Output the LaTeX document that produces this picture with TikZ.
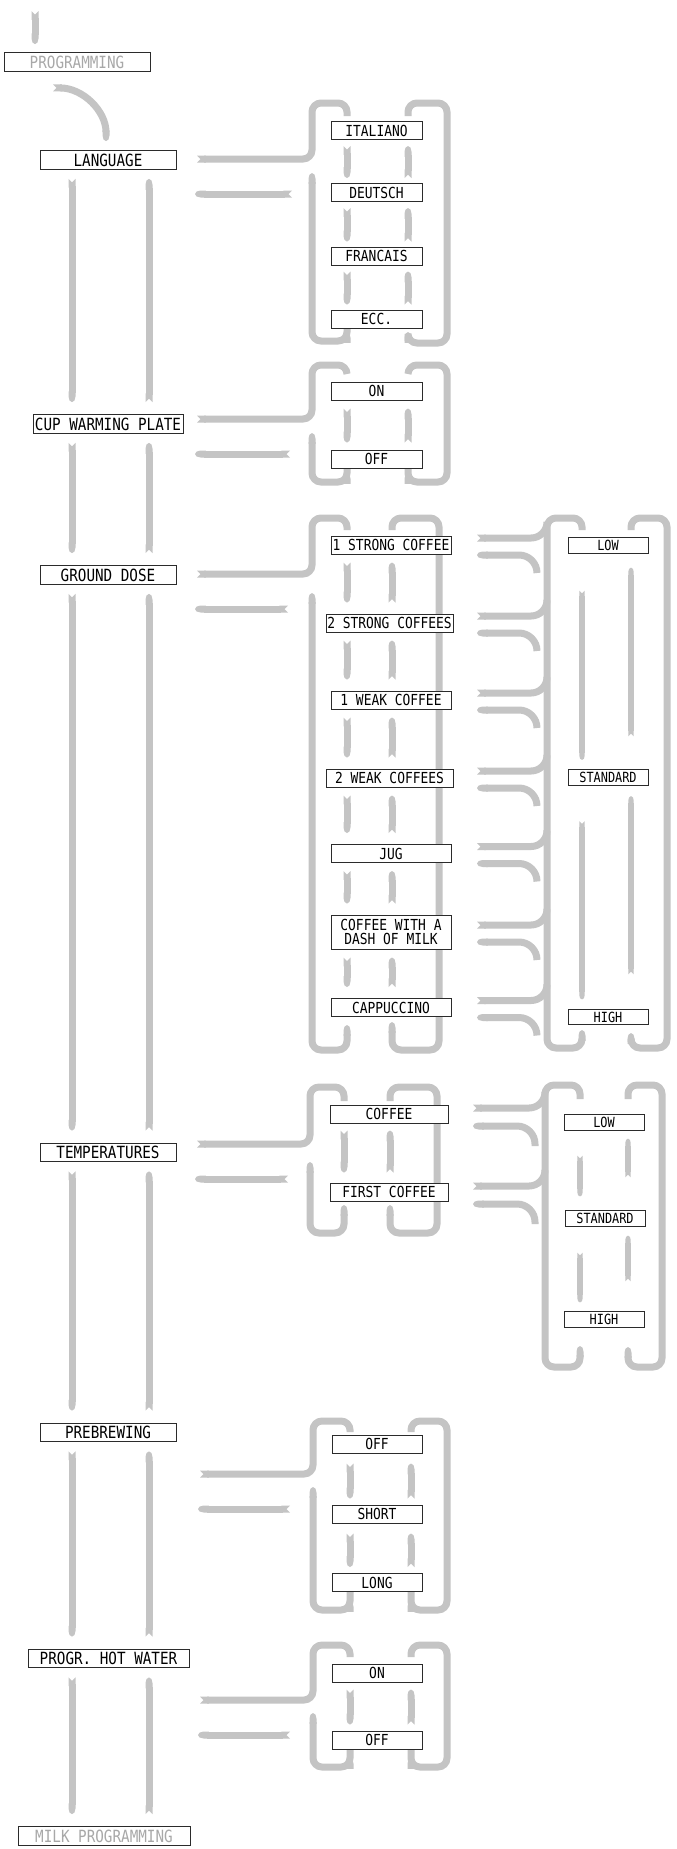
\documentclass[tikz,border=0pt]{standalone}
\usepackage{fontspec}
\newfontfamily\menufont{DejaVu Sans Mono}[FakeStretch=0.85]
\usepackage{tikz}
\usetikzlibrary{arrows.meta,backgrounds}
\definecolor{BandGrey}{HTML}{C4C4C4}
\definecolor{FadedText}{HTML}{A8A8A8}
\definecolor{BoxLine}{HTML}{2B2B2B}

\begin{document}
\begin{tikzpicture}[x=0.5pt,y=-0.5pt,
  band/.style={draw=BandGrey,line width=3.5pt,rounded corners=4.5pt},
  notchtip/.style={band,{Triangle Cap[reversed]}-{Round Cap[length=0pt 0.8]}},
  notchcut/.style={band,{Triangle Cap[reversed]}-},
  cuttip/.style={band,-{Round Cap[length=0pt 0.8]}},
  tiptip/.style={band,{Round Cap[length=0pt 0.8]}-{Round Cap[length=0pt 0.8]}},
  slim/.style={line width=2.7pt},
  mainbox/.style={draw=BoxLine,line width=0.5pt,fill=white,inner sep=0pt,align=center,minimum height=9.4pt,font=\menufont\fontsize{8.4}{8.4}\selectfont},
  fadedbox/.style={mainbox,text=FadedText},
  optbox/.style={mainbox,minimum height=9pt,font=\menufont\fontsize{7.6}{7}\selectfont},
  lvlbox/.style={mainbox,minimum width=40pt,minimum height=7.6pt,font=\menufont\fontsize{7}{7}\selectfont}]
  \useasboundingbox (0,0) rectangle (676,1849);

  % main menu
  \node[fadedbox,minimum width=73pt] (prog) at (77,62) {PROGRAMMING};
  \node[mainbox,minimum width=68pt] (lang) at (108,160) {LANGUAGE};
  \node[mainbox,minimum width=75pt] (cup) at (108,424) {CUP WARMING PLATE};
  \node[mainbox,minimum width=68pt] (gdose) at (108,575) {GROUND DOSE};
  \node[mainbox,minimum width=68pt] (temp) at (108,1152.5) {TEMPERATURES};
  \node[mainbox,minimum width=68pt] (prebr) at (108,1432.5) {PREBREWING};
  \node[mainbox,minimum width=80.5pt] (hotw) at (108.5,1658.5) {PROGR. HOT WATER};
  \node[fadedbox,minimum width=86pt] (milk) at (104,1836) {MILK PROGRAMMING};

  % language
  \node[optbox,minimum width=45.5pt] (ital) at (376.5,130.5) {ITALIANO};
  \node[optbox,minimum width=45.5pt] (deut) at (376.5,192.5) {DEUTSCH};
  \node[optbox,minimum width=45.5pt] (fran) at (376.5,256) {FRANCAIS};
  \node[optbox,minimum width=45.5pt] (ecc) at (376.5,319) {ECC.};

  % cup warming plate
  \node[optbox,minimum width=45.5pt] (cupon) at (376.5,391) {ON};
  \node[optbox,minimum width=45.5pt] (cupoff) at (376.5,459) {OFF};

  % ground dose
  \node[optbox,minimum width=60pt] (str1) at (391,545) {1 STRONG COFFEE};
  \node[optbox,minimum width=63.5pt] (str2) at (389.5,623) {2 STRONG COFFEES};
  \node[optbox,minimum width=60pt] (weak1) at (391,700) {1 WEAK COFFEE};
  \node[optbox,minimum width=63.5pt] (weak2) at (389.5,778) {2 WEAK COFFEES};
  \node[optbox,minimum width=60pt] (jug) at (391,853.5) {JUG};
  \node[optbox,minimum width=60pt,minimum height=17pt] (dash) at (391,932) {COFFEE WITH A\\DASH OF MILK};
  \node[optbox,minimum width=60pt] (capp) at (391,1007.5) {CAPPUCCINO};
  \node[lvlbox] (glow) at (608,545.5) {LOW};
  \node[lvlbox] (gstd) at (608,777.5) {STANDARD};
  \node[lvlbox] (ghigh) at (608,1017) {HIGH};

  % temperatures
  \node[optbox,minimum width=59pt] (tcof) at (389,1114) {COFFEE};
  \node[optbox,minimum width=59pt] (tfirst) at (389,1192) {FIRST COFFEE};
  \node[lvlbox] (tlow) at (604,1122.5) {LOW};
  \node[lvlbox] (tstd) at (605,1218.5) {STANDARD};
  \node[lvlbox] (thigh) at (604,1319.5) {HIGH};

  % prebrewing
  \node[optbox,minimum width=45pt] (poff) at (377,1444) {OFF};
  \node[optbox,minimum width=45pt] (pshort) at (377,1514) {SHORT};
  \node[optbox,minimum width=45pt] (plong) at (377,1582.5) {LONG};

  % hot water
  \node[optbox,minimum width=45pt] (hon) at (377,1673) {ON};
  \node[optbox,minimum width=45pt] (hoff) at (377,1740) {OFF};

  \coordinate (mainl) at (72,0);
  \coordinate (mainr) at (149,0);
  \coordinate (c1l) at (347,0);
  \coordinate (c1r) at (408,0);
  \coordinate (c3l) at (347,0);
  \coordinate (c3r) at (392,0);
  \coordinate (c4l) at (344,0);
  \coordinate (c4r) at (390,0);
  \coordinate (c5l) at (350,0);
  \coordinate (c5r) at (411,0);
  \coordinate (g3out) at (477,0);
  \coordinate (g3hook) at (537,0);
  \coordinate (g3bl) at (582,0);
  \coordinate (g3br) at (631,0);
  \coordinate (g4out) at (473,0);
  \coordinate (g4hook) at (535,0);
  \coordinate (g4bl) at (580,0);
  \coordinate (g4br) at (628,0);

  \begin{scope}[on background layer]
    \fill[white] (0,0) rectangle (676,1849);

    \draw[notchtip] (35,11) -- ([yshift=4pt]prog.north -| 35,0);
    \draw[notchtip] ([xshift=-12pt,yshift=-8pt]prog.south) .. controls +(30,0) and +(0,-30) .. ([xshift=-1pt,yshift=4.5pt]lang.north);
    \foreach \a/\b in {lang/cup,cup/gdose,gdose/temp,temp/prebr,prebr/hotw,hotw/milk} {
      \draw[notchtip] ([yshift=-4.5pt]\a.south -| mainl) -- ([yshift=6pt]\b.north -| mainl);
      \draw[notchtip] ([yshift=6pt]\b.north -| mainr) -- ([yshift=-4.5pt]\a.south -| mainr);
    }

    % language frame
    \draw[notchcut] (197,159) -- (312,159) -- (312,103) -- (347,103) -- (347,116);
    \draw[tiptip] (347,332) -- (347,341) -- (312,341) -- (312,173);
    \draw[cuttip] (408,116) -- (408,103) -- (447,103) -- (447,343) -- (408,343) -- (408,332);
    \draw[notchtip] (292,194) -- (195,194);
    \foreach \a/\b in {ital/deut,deut/fran,fran/ecc} {
      \draw[notchtip] ([yshift=-3pt]\a.south -| c1l) -- ([yshift=2.5pt]\b.north -| c1l);
      \draw[notchtip] ([yshift=2.5pt]\b.north -| c1r) -- ([yshift=-3pt]\a.south -| c1r);
    }

    % cup warming plate frame
    \draw[notchcut] (197,419) -- (312,419) -- (312,365) -- (347,365) -- (347,374);
    \draw[tiptip] (347,473) -- (347,482) -- (312,482) -- (312,433);
    \draw[cuttip] (408,374) -- (408,365) -- (447,365) -- (447,482) -- (408,482) -- (408,473);
    \draw[notchtip] (290,454) -- (195,454);
    \draw[notchtip] ([yshift=-4pt]cupon.south -| c1l) -- ([yshift=3.5pt]cupoff.north -| c1l);
    \draw[notchtip] ([yshift=3.5pt]cupoff.north -| c1r) -- ([yshift=-4pt]cupon.south -| c1r);

    % ground dose frame
    \draw[notchcut] (197,574) -- (312,574) -- (312,518) -- (347,518) -- (347,530);
    \draw[tiptip] (347,1025) -- (347,1050) -- (312,1050) -- (312,593);
    \draw[cuttip] (392,530) -- (392,518) -- (439,518) -- (439,1050) -- (392,1050) -- (392,1022);
    \draw[notchtip] (288,609) -- (195,609);
    \foreach \a/\b in {str1/str2,str2/weak1,weak1/weak2,weak2/jug,jug/dash,dash/capp} {
      \draw[notchtip] ([yshift=-4pt]\a.south -| c3l) -- ([yshift=5.5pt]\b.north -| c3l);
      \draw[notchtip] ([yshift=5.5pt]\b.north -| c3r) -- ([yshift=-4pt]\a.south -| c3r);
    }
    \foreach \n in {str1,str2,weak1,weak2,jug,dash,capp} {
      \draw[notchcut,rounded corners=8pt] ([yshift=3.5pt]\n.center -| g3out) -- ++(70,0) -- ++(0,-16);
      \draw[cuttip,rounded corners=9pt] ([yshift=-14pt]\n.center -| g3hook) -- ++(0,-18) -- ++(-60,0);
    }
    \draw[cuttip] (582,530) -- (582,518) -- (547,518) -- (547,1048) -- (582,1048) -- (582,1030);
    \draw[cuttip] (631,530) -- (631,518) -- (667,518) -- (667,1048) -- (631,1048) -- (631,1033);
    \draw[notchtip,slim] ([yshift=-18.5pt]glow.south -| g3bl) -- ([yshift=4.75pt]gstd.north -| g3bl);
    \draw[notchtip,slim] ([yshift=16.5pt]gstd.north -| g3br) -- ([yshift=-7pt]glow.south -| g3br);
    \draw[notchtip,slim] ([yshift=-17.75pt]gstd.south -| g3bl) -- ([yshift=4.75pt]ghigh.north -| g3bl);
    \draw[notchtip,slim] ([yshift=17.25pt]ghigh.north -| g3br) -- ([yshift=-5.25pt]gstd.south -| g3br);

    % temperatures frame
    \draw[notchcut] (197,1144) -- (310,1144) -- (310,1087) -- (344,1087) -- (344,1101);
    \draw[tiptip] (344,1205) -- (344,1233) -- (310,1233) -- (310,1162);
    \draw[cuttip] (390,1101) -- (390,1087) -- (437,1087) -- (437,1233) -- (390,1233) -- (390,1205);
    \draw[notchtip] (288,1179) -- (195,1179);
    \draw[notchtip] ([yshift=-3.5pt]tcof.south -| c4l) -- ([yshift=5pt]tfirst.north -| c4l);
    \draw[notchtip] ([yshift=5pt]tfirst.north -| c4r) -- ([yshift=-3.5pt]tcof.south -| c4r);
    \foreach \n in {tcof,tfirst} {
      \draw[notchcut,rounded corners=8pt] ([yshift=3pt]\n.center -| g4out) -- ++(72,0) -- ++(0,-16);
      \draw[cuttip,rounded corners=9pt] ([yshift=-16pt]\n.center -| g4hook) -- ++(0,-20) -- ++(-62,0);
    }
    \draw[cuttip] (580,1099) -- (580,1085) -- (545,1085) -- (545,1367) -- (580,1367) -- (580,1346);
    \draw[cuttip] (628,1099) -- (628,1085) -- (662,1085) -- (662,1367) -- (628,1367) -- (628,1347);
    \draw[notchtip,slim] ([yshift=-12.5pt]tlow.south -| g4bl) -- ([yshift=7pt]tstd.north -| g4bl);
    \draw[notchtip,slim] ([yshift=16.5pt]tstd.north -| g4br) -- ([yshift=-4pt]tlow.south -| g4br);
    \draw[notchtip,slim] ([yshift=-13pt]tstd.south -| g4bl) -- ([yshift=4.5pt]thigh.north -| g4bl);
    \draw[notchtip,slim] ([yshift=15pt]thigh.north -| g4br) -- ([yshift=-4.5pt]tstd.south -| g4br);

    % prebrewing frame
    \draw[notchcut] (200,1474) -- (313,1474) -- (313,1421) -- (350,1421) -- (350,1432);
    \draw[tiptip] (350,1601) -- (350,1610) -- (313,1610) -- (313,1487);
    \draw[cuttip] (411,1432) -- (411,1421) -- (447,1421) -- (447,1610) -- (411,1610) -- (411,1601);
    \draw[notchtip] (290,1509) -- (198,1509);
    \foreach \a/\b in {poff/pshort,pshort/plong} {
      \draw[notchtip] ([yshift=-5pt]\a.south -| c5l) -- ([yshift=3pt]\b.north -| c5l);
      \draw[notchtip] ([yshift=3pt]\b.north -| c5r) -- ([yshift=-5pt]\a.south -| c5r);
    }

    % hot water frame
    \draw[notchcut] (200,1700) -- (313,1700) -- (313,1645) -- (350,1645) -- (350,1657);
    \draw[tiptip] (350,1758) -- (350,1767) -- (313,1767) -- (313,1713);
    \draw[cuttip] (411,1657) -- (411,1645) -- (447,1645) -- (447,1767) -- (411,1767) -- (411,1758);
    \draw[notchtip] (290,1735) -- (198,1735);
    \draw[notchtip] ([yshift=-3.5pt]hon.south -| c5l) -- ([yshift=3pt]hoff.north -| c5l);
    \draw[notchtip] ([yshift=3pt]hoff.north -| c5r) -- ([yshift=-3.5pt]hon.south -| c5r);
  \end{scope}
\end{tikzpicture}
\end{document}
